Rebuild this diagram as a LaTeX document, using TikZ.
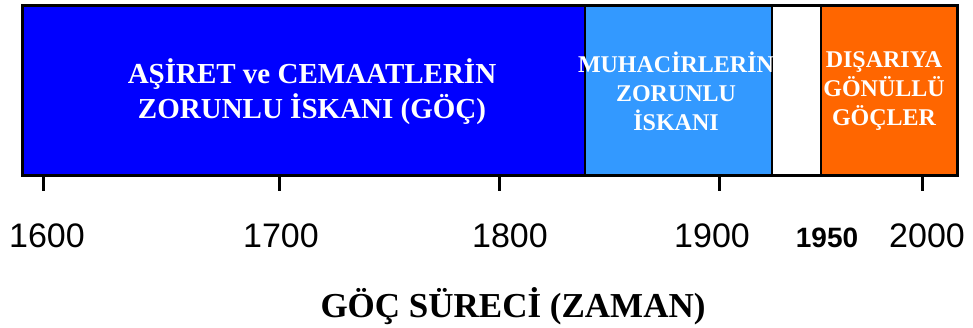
\documentclass[tikz,border=0pt]{standalone}
\usepackage{fontspec}
\setmainfont{Liberation Serif}
\setsansfont{Liberation Sans}
\usetikzlibrary{positioning}
\definecolor{asiretblue}{HTML}{0000FF}
\definecolor{muhacirblue}{HTML}{3399FF}
\definecolor{disariorange}{HTML}{FF6600}
\tikzset{
  seg/.style={draw=black, line width=1.5pt, inner sep=0pt, anchor=north west, minimum height=169pt},
  lbl/.style={text=white, align=center},
  yr/.style={font=\sffamily\fontsize{34}{40}\selectfont, anchor=base},
  axistick/.style={line width=3pt}
}

\begin{document}
\begin{tikzpicture}[x=1pt,y=-1pt]
  \useasboundingbox (0,0) rectangle (973,327);
  % zaman seritleri
  \node[seg, fill=asiretblue, minimum width=562pt] (asiret) at (22,5) {};
  \node[seg, fill=muhacirblue, minimum width=187pt] (muhacir) at (584,5) {};
  \node[seg, fill=white, minimum width=49pt] (bos) at (771,5) {};
  \node[seg, fill=disariorange, minimum width=136pt] (disari) at (820,5) {};
  \draw[line width=3pt] (asiret.north west) rectangle (disari.south east);
  % etiketler
  \node[lbl, font=\bfseries\fontsize{29}{35}\selectfont] (asiretlbl) at (312,92)
    {AŞİRET ve CEMAATLERİN\\ZORUNLU İSKANI (GÖÇ)};
  \node[lbl, font=\bfseries\fontsize{24}{29}\selectfont] (muhacirlbl) at (676,91)
    {MUHACİRLERİN\\ZORUNLU\\İSKANI};
  \node[lbl, font=\bfseries\fontsize{24}{29}\selectfont] (disarilbl) at (884,91)
    {DIŞARIYA\\GÖNÜLLÜ\\GÖÇLER};
  % eksen
  \foreach \yil/\x in {1600/43,1700/279,1800/499,1900/719,2000/922} {
    \coordinate (t\yil) at (\x,174);
    \draw[axistick] (t\yil) -- ++(0,17);
  }
  \node[yr] (y1600) at (47,247) {1600};
  \node[yr] (y1700) at (281,247) {1700};
  \node[yr] (y1800) at (510,247) {1800};
  \node[yr] (y1900) at (712,247) {1900};
  \node[yr, font=\sffamily\bfseries\fontsize{28}{32}\selectfont] (y1950) at (827,247) {1950};
  \node[yr] (y2000) at (927,247) {2000};
  \node[font=\bfseries\fontsize{35}{40}\selectfont, anchor=base] (baslik) at (513,317)
    {GÖÇ SÜRECİ (ZAMAN)};
\end{tikzpicture}
\end{document}
